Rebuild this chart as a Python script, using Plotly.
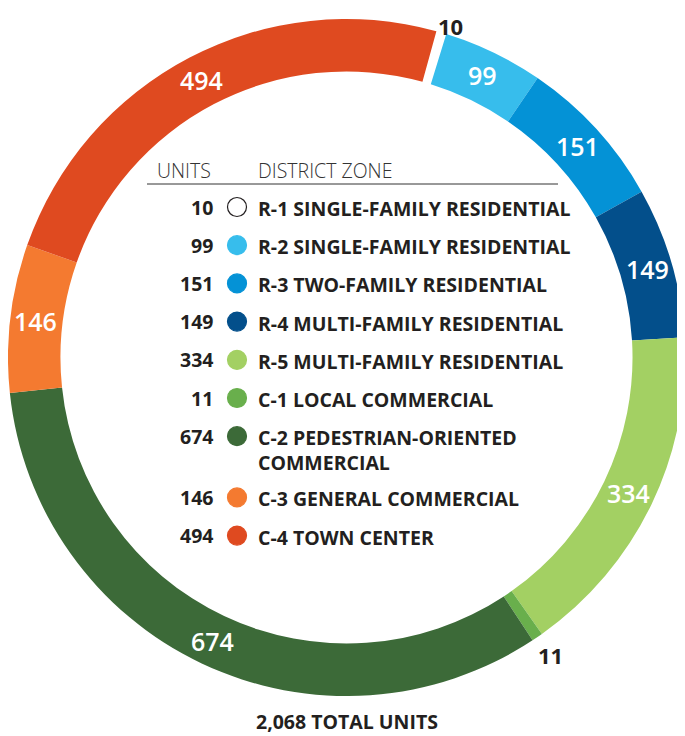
import numpy as np
import plotly.graph_objects as go

units = [10, 99, 151, 149, 334, 11, 674, 146, 494]
codes = ["R-1", "R-2", "R-3", "R-4", "R-5", "C-1", "C-2", "C-3", "C-4"]
zone_names = [
    "SINGLE-FAMILY RESIDENTIAL",
    "SINGLE-FAMILY RESIDENTIAL",
    "TWO-FAMILY RESIDENTIAL",
    "MULTI-FAMILY RESIDENTIAL",
    "MULTI-FAMILY RESIDENTIAL",
    "LOCAL COMMERCIAL",
    "PEDESTRIAN-ORIENTED<br>COMMERCIAL",
    "GENERAL COMMERCIAL",
    "TOWN CENTER",
]
zone_colors = [
    "#FFFFFF",
    "#37BDEC",
    "#0492D6",
    "#034F8B",
    "#A3D063",
    "#69AF4C",
    "#3C6A38",
    "#F47A30",
    "#DF4A20",
]
outside_labels = ["R-1", "C-1"]  # slices too thin for an inside label

# the page body has an 8px margin, so the figure is drawn from (8, 8);
# axis ranges below are in window pixels so positions
PAD = 8
WIN_W, WIN_H = 685, 736
W, H = WIN_W - PAD, WIN_H - PAD
FONT = "Open Sans"
DARK = "#231F20"

# donut geometry (window pixels)
cx, cy, R = 346.5, 357.5, 338.5
hole = 0.845
rotation = 15.4
total = sum(units)

fig = go.Figure()

fig.add_trace(
    go.Pie(
        values=units,
        labels=[f"{c} {n}" for c, n in zip(codes, zone_names)],
        marker={"colors": zone_colors, "line": {"width": 0}},
        hole=hole,
        sort=False,
        direction="clockwise",
        rotation=rotation,
        textinfo="none",
        hoverinfo="label+value",
        showlegend=False,
        domain={
            "x": [max(0, (cx - R - PAD) / W), min(1, (cx + R - PAD) / W)],
            "y": [1 - (cy + R - PAD) / H, 1 - (cy - R - PAD) / H],
        },
    )
)

# slice labels, placed at each slice's mid angle
cum = np.cumsum([0] + units)
ring_mid = R * (1 + hole) / 2
annotations = []
for i, c in enumerate(codes):
    mid = np.radians(rotation + (cum[i] + units[i] / 2) / total * 360)
    if c in outside_labels:
        rr, col, size = R + 20, DARK, 22
        dx, dy = (4, 6) if c == "R-1" else (1.5, 1.5)
    else:
        rr, col, size = ring_mid + 1, "white", 25
        dx, dy = 0, 0
    x = cx + rr * np.sin(mid) + dx
    y = cy - rr * np.cos(mid) + dy
    ann = dict(
        x=x, y=y, xref="x", yref="y", text=str(units[i]), showarrow=False,
        font={"family": FONT, "size": size, "color": col,
              "weight": 700 if c in outside_labels else 600},
    )
    if c == "R-1":
        # keep the top label inside the page
        ann.update(y=PAD + 0.5, yanchor="top")
    annotations.append(ann)

# center table
row_y = []
y0, step = 207, 38.2
extra = 0
for i, n in enumerate(zone_names):
    row_y.append(y0 + i * step + extra)
    if "<br>" in n:
        extra += 23

fig.add_trace(
    go.Scatter(
        x=[237] * len(units),
        y=row_y,
        mode="markers",
        marker={
            "size": 19,
            "color": zone_colors,
            "line": {"color": [DARK if c == "#FFFFFF" else c for c in zone_colors], "width": 1.2},
        },
        hoverinfo="skip",
        showlegend=False,
    )
)

for i in range(len(units)):
    annotations.append(
        dict(
            x=215, y=row_y[i], xref="x", yref="y", xanchor="right", yanchor="middle",
            text=f"<b>{units[i]}</b>", showarrow=False,
            font={"family": FONT, "size": 19.5, "color": DARK},
        )
    )
    annotations.append(
        dict(
            x=256, y=row_y[i] - 14, xref="x", yref="y", xanchor="left", yanchor="top",
            text=f"<b>{codes[i]} {zone_names[i]}</b>", showarrow=False, align="left",
            font={"family": FONT, "size": 19.5, "color": DARK},
        )
    )

annotations += [
    dict(x=155, y=170, xref="x", yref="y", xanchor="left", yanchor="middle",
         text="UNITS", showarrow=False,
         font={"family": FONT, "size": 19.5, "color": "#333333", "weight": 300}),
    dict(x=256, y=170, xref="x", yref="y", xanchor="left", yanchor="middle",
         text="DISTRICT ZONE", showarrow=False,
         font={"family": FONT, "size": 19.5, "color": "#333333", "weight": 300}),
    dict(x=cx, y=721, xref="x", yref="y", xanchor="center", yanchor="middle",
         text=f"<b>{total:,} TOTAL UNITS</b>", showarrow=False,
         font={"family": FONT, "size": 19.5, "color": DARK}),
]

fig.update_layout(
    width=W,
    height=H,
    margin={"l": 0, "r": 0, "t": 0, "b": 0},
    paper_bgcolor="white",
    plot_bgcolor="rgba(0,0,0,0)",
    xaxis={"range": [PAD, WIN_W], "visible": False, "domain": [0, 1], "fixedrange": True},
    yaxis={"range": [WIN_H, PAD], "visible": False, "domain": [0, 1], "fixedrange": True},
    shapes=[
        dict(type="line", xref="x", yref="y", x0=147, x1=558, y0=184, y1=184,
             line={"color": "#333333", "width": 1}),
    ],
    annotations=annotations,
)

fig.write_html("out.html")
